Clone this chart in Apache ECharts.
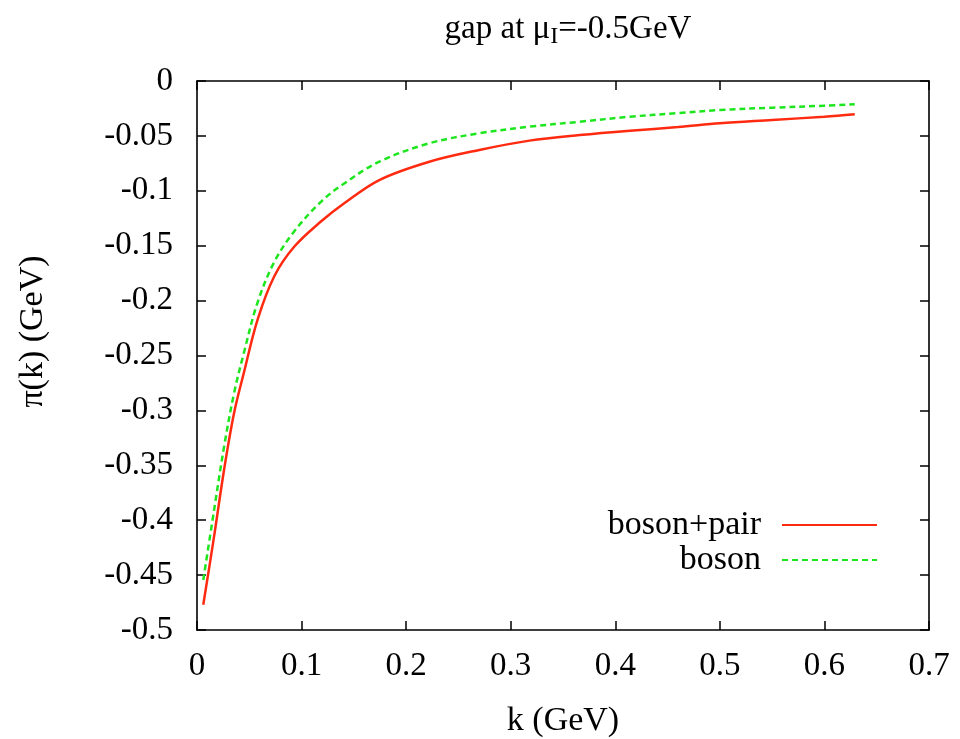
<!DOCTYPE html>
<html>
<head>
<meta charset="utf-8">
<script src="https://cdn.jsdelivr.net/npm/echarts@6/dist/echarts.min.js"></script>
<style>html,body{margin:0;padding:0;background:#fff;}#c{width:960px;height:739px;}</style>
</head>
<body>
<div id="c"></div>
<script>
const kValues = [0.006, 0.0163, 0.0259, 0.0354, 0.045, 0.0578, 0.0738, 0.0929, 0.1185, 0.1408, 0.1743, 0.2222, 0.270, 0.318, 0.366, 0.414, 0.46, 0.5, 0.55, 0.6, 0.629];
const bosonPair = [-0.477, -0.415, -0.354, -0.3026, -0.265, -0.2177, -0.178, -0.151, -0.128, -0.1114, -0.0902, -0.0735, -0.0628, -0.0543, -0.0492, -0.0452, -0.042, -0.0385, -0.0355, -0.0325, -0.0303];
const boson = [-0.4545, -0.391, -0.333, -0.2845, -0.247, -0.202, -0.165, -0.137, -0.110, -0.0933, -0.0735, -0.0567, -0.0476, -0.0416, -0.0371, -0.0325, -0.0293, -0.0264, -0.0243, -0.0225, -0.0212];
const seriesNames = ['boson+pair', 'boson'];

const font = 'Liberation Serif';
const fs = 33;
const pair = (ys) => kValues.map((k, i) => [k, ys[i]]);

const GRID = { left: 197, right: 31, top: 81, bottom: 109 };
const plotW = 960 - GRID.left - GRID.right;
const plotH = 739 - GRID.top - GRID.bottom;

const lineOn = { show: true, onZero: false, lineStyle: { color: '#000', width: 1.6 } };
const lineOff = { show: false, onZero: false };
const tickOut = { show: true, inside: false, length: 9, lineStyle: { color: '#000', width: 1.5 } };
const xBase = { type: 'value', min: 0, max: 0.7, interval: 0.1, splitLine: { show: false } };
const yBase = { type: 'value', min: -0.5, max: 0, interval: 0.05, splitLine: { show: false } };

const chart = echarts.init(document.getElementById('c'));
chart.setOption({
  animation: false,
  backgroundColor: '#fff',
  title: {
    text: '{m|gap at μ}{s|I}{m|=-0.5GeV}',
    left: 563, top: 4, textAlign: 'center',
    textStyle: {
      fontFamily: font, fontSize: fs, fontWeight: 'normal', color: '#000',
      rich: {
        m: { fontFamily: font, fontSize: fs, color: '#000' },
        s: { fontFamily: font, fontSize: 24, color: '#000', verticalAlign: 'bottom', padding: [16, 0, 0, 0] }
      }
    }
  },
  legend: {
    orient: 'vertical', align: 'right', right: 77, top: 503,
    itemWidth: 95, itemHeight: 10, itemGap: 1,
    itemStyle: { opacity: 0 },
    textStyle: { fontFamily: font, fontSize: 34, color: '#000', padding: [0, 16, 0, 0] },
    data: seriesNames
  },
  grid: Object.assign({ show: false, containLabel: false, outerBoundsMode: 'none' }, GRID),
  xAxis: [
    Object.assign({}, xBase, {
      position: 'bottom', axisLine: lineOn, axisTick: { show: false },
      name: 'k (GeV)', nameLocation: 'middle', nameGap: 74,
      nameTextStyle: { fontFamily: font, fontSize: 34, color: '#000' },
      axisLabel: { fontFamily: font, fontSize: fs, color: '#000', margin: 20 }
    }),
    Object.assign({}, xBase, {
      position: 'top', axisLine: lineOn, axisTick: { show: false }, axisLabel: { show: false }
    }),
    Object.assign({}, xBase, {
      position: 'top', offset: -plotH, axisLine: lineOff, axisTick: tickOut, axisLabel: { show: false }
    }),
    Object.assign({}, xBase, {
      position: 'bottom', offset: -plotH, axisLine: lineOff, axisTick: tickOut, axisLabel: { show: false }
    })
  ],
  yAxis: [
    Object.assign({}, yBase, {
      position: 'left', axisLine: lineOn, axisTick: { show: false },
      name: 'π(k) (GeV)', nameLocation: 'middle', nameGap: 147, nameRotate: 90,
      nameTextStyle: { fontFamily: font, fontSize: 34, color: '#000', padding: [0, 0, 0, 48] },
      axisLabel: { fontFamily: font, fontSize: fs, color: '#000', margin: 24 }
    }),
    Object.assign({}, yBase, {
      position: 'right', axisLine: lineOn, axisTick: { show: false }, axisLabel: { show: false }
    }),
    Object.assign({}, yBase, {
      position: 'right', offset: -plotW, axisLine: lineOff, axisTick: tickOut, axisLabel: { show: false }
    }),
    Object.assign({}, yBase, {
      position: 'left', offset: -plotW, axisLine: lineOff, axisTick: tickOut, axisLabel: { show: false }
    })
  ],
  series: [
    {
      name: seriesNames[0], type: 'line', data: pair(bosonPair), smooth: 0.35,
      symbol: 'none', xAxisIndex: 0, yAxisIndex: 0, z: 3,
      lineStyle: { color: '#ff2a10', width: 2.5 }, itemStyle: { color: '#ff2a10' }
    },
    {
      name: seriesNames[1], type: 'line', data: pair(boson), smooth: 0.35,
      symbol: 'none', xAxisIndex: 0, yAxisIndex: 0, z: 3,
      lineStyle: { color: '#1ee61e', width: 2.5, type: [6, 4] }, itemStyle: { color: '#1ee61e' }
    }
  ]
});
</script>
</body>
</html>
